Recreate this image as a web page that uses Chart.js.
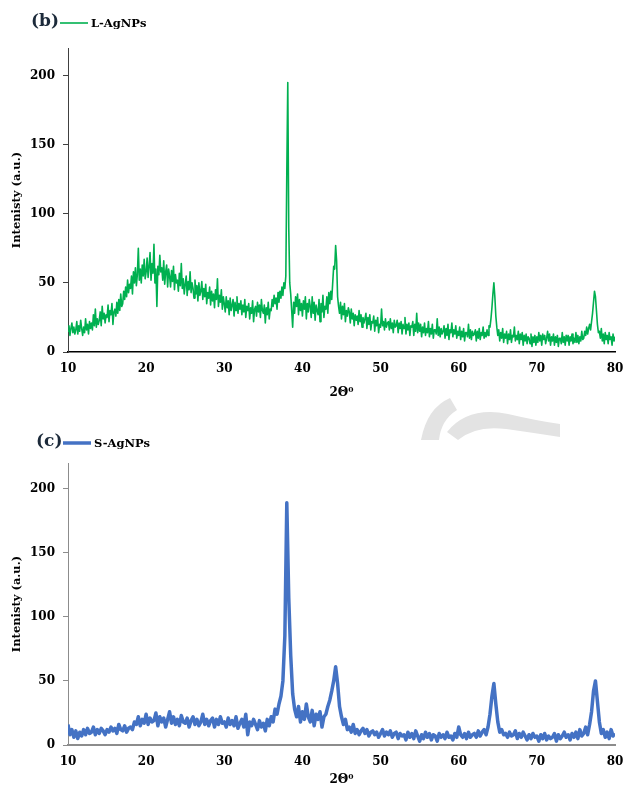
<!DOCTYPE html>
<html>
<head>
<meta charset="utf-8">
<script src="https://cdn.jsdelivr.net/npm/chart.js@4.4.1/dist/chart.umd.min.js"></script>
<style>
    html, body { margin: 0; padding: 0; background: #fff; }
    #wrap { position: relative; width: 625px; height: 787px; overflow: hidden; }
    canvas, svg { position: absolute; left: 0; }
    #mark { top: 0; }
    #chart-b { top: 0; }
    #chart-c { top: 400px; }
</style>
</head>
<body>
<div id="wrap">
    <svg id="mark" width="625" height="787">
        <path d="M421,440 Q427,408 450,398 L457,410 Q441,420 439,440 Z" fill="#e3e3e3"/>
        <path d="M447,432 Q468,406 508,414 Q538,421 560,424 L560,437 Q534,433 506,429 Q476,425 458,440 Z" fill="#e3e3e3"/>
    </svg>
    <canvas id="chart-b" width="625" height="400"></canvas>
    <canvas id="chart-c" width="625" height="387"></canvas>
</div>
<script>
// 2-theta sampling (degrees)
const lStart = 10, lStep = 0.125;
const sStart = 10, sStep = 0.25;
const xTicks = [10, 20, 30, 40, 50, 60, 70, 80];
const yTicks = [0, 50, 100, 150, 200];

// L-AgNPs intensity, one row per degree (8 samples each)
const lAgNPs = [
    15, 19, 12, 17, 21, 14, 18, 13,    // 10
    16, 22, 13, 19, 15, 23, 17, 12,    // 11
    18, 14, 24, 16, 20, 13, 22, 17,    // 12
    21, 16, 27, 19, 31, 18, 24, 20,    // 13
    23, 29, 19, 33, 24, 28, 21, 27,    // 14
    25, 34, 22, 30, 27, 35, 20, 29,    // 15
    31, 26, 36, 28, 38, 30, 42, 33,    // 16
    35, 44, 38, 47, 40, 52, 43, 49,    // 17
    46, 55, 42, 58, 50, 61, 48, 56,    // 18
    75, 52, 60, 50, 63, 55, 67, 53,    // 19
    58, 68, 54, 62, 72, 52, 64, 57,    // 20
    78, 50, 60, 33, 62, 56, 70, 58,    // 21
    61, 52, 66, 49, 58, 63, 47, 60,    // 22
    55, 47, 59, 51, 62, 45, 56, 50,    // 23
    52, 44, 57, 48, 64, 46, 53, 42,    // 24
    49, 55, 41, 51, 45, 58, 43, 50,    // 25
    46, 39, 52, 42, 48, 37, 50, 41,    // 26
    44, 51, 38, 46, 40, 49, 35, 43,    // 27
    39, 47, 34, 44, 37, 42, 32, 45,    // 28
    38, 53, 33, 41, 36, 45, 31, 40,    // 29
    35, 29, 40, 32, 37, 27, 39, 30,    // 30
    34, 38, 26, 36, 30, 40, 28, 35,    // 31
    31, 37, 27, 34, 29, 38, 25, 33,    // 32
    30, 35, 24, 32, 28, 37, 22, 31,    // 33
    33, 26, 36, 29, 34, 25, 38, 30,    // 34
    28, 34, 21, 32, 27, 36, 24, 31,    // 35
    30, 38, 33, 41, 35, 39, 31, 43,    // 36
    36, 44, 39, 47, 41, 50, 46, 55,    // 37
    130, 195, 90, 50, 42, 30, 18, 36,  // 38
    28, 40, 33, 42, 27, 38, 30, 35,    // 39
    26, 37, 31, 40, 24, 35, 29, 38,    // 40
    33, 25, 40, 28, 36, 23, 34, 30,    // 41
    27, 38, 22, 35, 29, 41, 25, 33,    // 42
    31, 40, 28, 43, 35, 44, 38, 50,    // 43
    62, 60, 77, 66, 40, 33, 28, 36,    // 44
    24, 33, 27, 35, 22, 30, 26, 32,    // 45
    29, 21, 31, 24, 28, 19, 27, 23,    // 46
    26, 20, 30, 22, 27, 18, 25, 21,    // 47
    24, 28, 17, 25, 20, 27, 16, 22,    // 48
    21, 26, 15, 23, 19, 25, 14, 20,    // 49
    18, 31, 19, 22, 16, 24, 18, 21,    // 50
    22, 16, 24, 17, 21, 14, 23, 18,    // 51
    19, 23, 14, 21, 17, 22, 13, 20,    // 52
    17, 25, 13, 20, 16, 21, 12, 19,    // 53
    18, 22, 12, 20, 15, 28, 14, 21,    // 54
    15, 20, 11, 18, 14, 21, 12, 17,    // 55
    14, 22, 11, 17, 13, 20, 10, 16,    // 56
    16, 13, 24, 12, 18, 11, 17, 13,    // 57
    15, 19, 10, 17, 12, 20, 9, 16,     // 58
    14, 21, 11, 16, 13, 19, 10, 15,    // 59
    12, 18, 9, 15, 11, 17, 8, 14,      // 60
    14, 11, 20, 10, 16, 9, 15, 12,     // 61
    13, 16, 8, 15, 10, 17, 9, 14,      // 62
    12, 18, 10, 14, 11, 16, 12, 19,    // 63
    18, 24, 32, 42, 50, 40, 26, 18,    // 64
    12, 16, 8, 14, 10, 17, 7, 13,      // 65
    10, 15, 6, 13, 9, 16, 7, 12,       // 66
    11, 18, 8, 12, 9, 15, 6, 13,       // 67
    9, 14, 5, 12, 8, 13, 6, 11,        // 68
    10, 6, 13, 4, 11, 7, 12, 5,        // 69
    11, 7, 14, 8, 12, 5, 13, 9,        // 70
    12, 6, 10, 15, 8, 13, 5, 11,       // 71
    8, 13, 5, 11, 7, 12, 4, 10,        // 72
    10, 6, 14, 7, 11, 5, 12, 8,        // 73
    12, 5, 11, 8, 13, 6, 10, 7,        // 74
    14, 7, 12, 6, 11, 8, 15, 9,        // 75
    10, 15, 12, 18, 13, 17, 20, 16,    // 76
    22, 28, 36, 44, 40, 30, 20, 14,    // 77
    15, 10, 17, 8, 13, 6, 14, 9,       // 78
    12, 6, 14, 9, 11, 5, 13, 8,        // 79
    11                                 // 80
];

// S-AgNPs intensity, one row per degree (x.00, x.25, x.50, x.75)
const sAgNPs = [
    16, 8, 12, 6,     11, 5, 10, 7,     12, 8, 13, 9,     10, 14, 8, 12,    // 10-13
    9, 13, 11, 8,     12, 10, 14, 11,   13, 9, 16, 12,    11, 15, 10, 13,   // 14-17
    14, 12, 18, 16,   22, 15, 20, 17,   24, 16, 21, 18,   19, 25, 15, 22,   // 18-21
    18, 21, 14, 20,   26, 17, 22, 16,   20, 15, 23, 18,   17, 21, 14, 19,   // 22-25
    22, 16, 20, 15,   18, 24, 16, 20,   15, 19, 21, 14,   20, 16, 22, 17,   // 26-29
    18, 14, 21, 16,   19, 15, 22, 13,   17, 20, 14, 24,   8, 18, 15, 20,    // 30-33
    16, 12, 19, 14,   17, 11, 20, 15,   22, 18, 28, 24,   32, 38, 50, 85,   // 34-37
    189, 115, 70, 40, 28, 22, 30, 18,   26, 20, 32, 22,   18, 27, 15, 24,   // 38-41
    20, 26, 14, 22,   24, 30, 35, 42,   50, 61, 48, 30,   22, 16, 20, 12,   // 42-45
    14, 10, 16, 9,    12, 8, 11, 13,    9, 12, 7, 10,     11, 8, 10, 6,     // 46-49
    9, 12, 7, 10,     8, 11, 6, 9,      10, 5, 9, 7,      8, 4, 10, 6,      // 50-53
    9, 5, 11, 7,      3, 8, 5, 10,      6, 9, 4, 8,       7, 3, 9, 6,       // 54-57
    8, 5, 10, 6,      7, 4, 9, 6,       14, 8, 6, 9,      5, 10, 6, 8,      // 58-61
    9, 6, 11, 7,      10, 12, 8, 14,    24, 38, 48, 32,   18, 10, 12, 8,    // 62-65
    9, 6, 10, 7,      8, 11, 5, 9,      6, 10, 7, 4,      8, 5, 9, 6,       // 66-69
    7, 3, 8, 5,       9, 4, 7, 5,       6, 9, 3, 8,       5, 7, 10, 6,      // 70-73
    8, 4, 9, 6,       10, 5, 12, 7,     9, 14, 8, 16,     26, 42, 50, 34,   // 74-77
    18, 9, 12, 6,     10, 5, 12, 7,     9                                   // 78-80
];

const serif = "'DejaVu Serif', serif";

function toPoints(values, start, step) {
    return values.map((v, i) => ({ x: start + i * step, y: v }));
}

// draws the "(b) ---- L-AgNPs" header
const headerPlugin = {
    id: "header",
    afterDraw(chart, args, opts) {
        const ctx = chart.ctx;
        const ds = chart.data.datasets[0];
        ctx.save();
        ctx.textBaseline = "middle";
        ctx.fillStyle = "#1c2a3a";
        ctx.font = "bold 17px " + serif;
        ctx.fillText(opts.tag, opts.x, opts.y);
        ctx.strokeStyle = ds.borderColor;
        ctx.lineWidth = ds.borderWidth;
        ctx.beginPath();
        ctx.moveTo(opts.lineX, opts.y + 1);
        ctx.lineTo(opts.lineX + 28, opts.y + 1);
        ctx.stroke();
        ctx.fillStyle = "#000";
        ctx.font = "bold 11.5px " + serif;
        ctx.fillText(ds.label, opts.lineX + 31, opts.y + 2);
        ctx.restore();
    }
};

function makeChart(canvasId, opts) {
    const ctx = document.getElementById(canvasId).getContext("2d");
    return new Chart(ctx, {
        type: "line",
        data: {
            datasets: [{
                label: opts.label,
                data: toPoints(opts.values, opts.start, opts.step),
                borderColor: opts.color,
                borderWidth: opts.lineWidth,
                borderJoinStyle: "round",
                pointRadius: 0,
                tension: 0,
                fill: false
            }]
        },
        options: {
            responsive: false,
            animation: false,
            layout: { padding: { top: opts.padTop, right: 10, left: 0, bottom: 0 } },
            plugins: {
                legend: { display: false },
                tooltip: { enabled: false },
                header: { tag: opts.tag, x: opts.tagX, y: opts.tagY, lineX: opts.lineX }
            },
            scales: {
                x: {
                    type: "linear",
                    min: 10,
                    max: 80,
                    afterFit: (scale) => {
                        scale.height = opts.xHeight;
                        scale.paddingLeft = 0;
                        scale.paddingRight = 0;
                    },
                    afterBuildTicks: (scale) => { scale.ticks = xTicks.map(v => ({ value: v })); },
                    grid: { drawOnChartArea: false, drawTicks: false },
                    border: { display: true, color: opts.xAxisColor, width: opts.xAxisWidth },
                    ticks: { padding: 10, color: "#000", font: { family: serif, weight: "bold", size: 12 } },
                    title: {
                        display: true,
                        text: "2Θ⁰",
                        color: "#000",
                        padding: { top: 4, bottom: 0 },
                        font: { family: serif, weight: "bold", size: 12 }
                    }
                },
                y: {
                    min: 0,
                    max: 220,
                    afterFit: (scale) => { scale.width = 68; },
                    afterBuildTicks: (scale) => { scale.ticks = yTicks.map(v => ({ value: v })); },
                    grid: { drawOnChartArea: false, drawTicks: true, tickLength: 5, color: opts.yAxisColor },
                    border: { display: true, color: opts.yAxisColor, width: 1 },
                    ticks: { padding: 8, color: "#000", font: { family: serif, weight: "bold", size: 12 } },
                    title: {
                        display: true,
                        text: "Intenisty (a.u.)",
                        color: "#000",
                        padding: { top: 10, bottom: 0 },
                        font: { family: serif, weight: "bold", size: 11.5 }
                    }
                }
            }
        },
        plugins: [headerPlugin]
    });
}

makeChart("chart-b", {
    label: "L-AgNPs", values: lAgNPs, start: lStart, step: lStep,
    color: "#00b050", lineWidth: 1.6,
    padTop: 48, xHeight: 48,
    tag: "(b)", tagX: 31, tagY: 22, lineX: 60,
    xAxisColor: "#000", xAxisWidth: 1.5, yAxisColor: "#404040"
});

makeChart("chart-c", {
    label: "S-AgNPs", values: sAgNPs, start: sStart, step: sStep,
    color: "#4472c4", lineWidth: 3.5,
    padTop: 63, xHeight: 42,
    tag: "(c)", tagX: 36, tagY: 42, lineX: 63,
    xAxisColor: "#8c8c8c", xAxisWidth: 2, yAxisColor: "#8c8c8c"
});
</script>
</body>
</html>
